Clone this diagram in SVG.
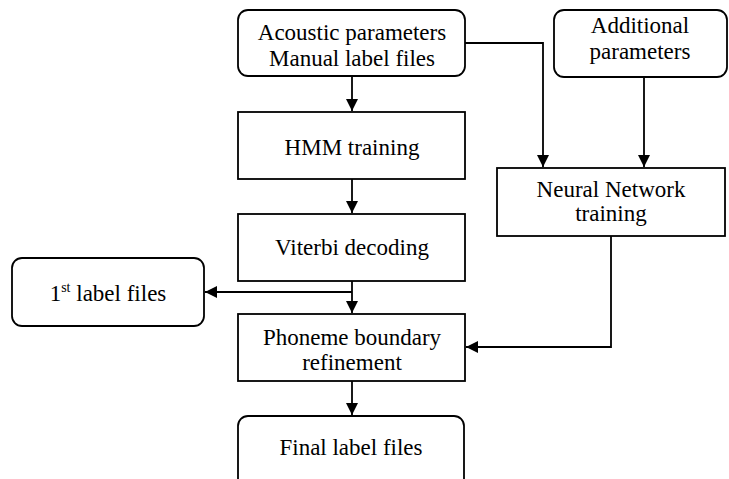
<svg xmlns="http://www.w3.org/2000/svg" width="729" height="479" viewBox="0 0 729 479">
<defs>
<marker id="ah" viewBox="0 0 12 12" refX="12" refY="6" markerWidth="12" markerHeight="12" markerUnits="userSpaceOnUse" orient="auto">
<path d="M0,0 L12,6 L0,12 Z" fill="#000"/>
</marker>
</defs>
<style>
.box{fill:#fff;stroke:#000;stroke-width:1.8}
.t{font-family:"Liberation Serif","Times New Roman",serif;font-size:23px;fill:#000;text-anchor:middle}
.c{fill:none;stroke:#000;stroke-width:1.8}
</style>
<rect width="729" height="479" fill="#fff"/>
<g id="connectors">
<path class="c" d="M352,76 V111" marker-end="url(#ah)"/>
<path class="c" d="M352,179 V213" marker-end="url(#ah)"/>
<path class="c" d="M352,281 V313" marker-end="url(#ah)"/>
<path class="c" d="M352,292 H205" marker-end="url(#ah)"/>
<path class="c" d="M352,381 V415" marker-end="url(#ah)"/>
<path class="c" d="M465,43 H543 V167" marker-end="url(#ah)"/>
<path class="c" d="M644,77 V167" marker-end="url(#ah)"/>
<path class="c" d="M611,236 V347 H466" marker-end="url(#ah)"/>
</g>
<g id="acoustic">
<rect class="box" x="238" y="10" width="227" height="66" rx="10"/>
<text class="t" x="352" y="40">Acoustic parameters</text>
<text class="t" x="352" y="66">Manual label files</text>
</g>
<g id="additional">
<rect class="box" x="554" y="10" width="173" height="67" rx="10"/>
<text class="t" x="640" y="33">Additional</text>
<text class="t" x="640" y="59">parameters</text>
</g>
<g id="hmm">
<rect class="box" x="238" y="112" width="227" height="67"/>
<text class="t" x="352" y="155">HMM training</text>
</g>
<g id="viterbi">
<rect class="box" x="238" y="214" width="227" height="67"/>
<text class="t" x="352" y="255">Viterbi decoding</text>
</g>
<g id="nn">
<rect class="box" x="497" y="168" width="228" height="68"/>
<text class="t" x="611" y="197">Neural Network</text>
<text class="t" x="611" y="221">training</text>
</g>
<g id="first">
<rect class="box" x="12" y="258" width="192" height="68" rx="10"/>
<text class="t" x="108" y="301">1<tspan font-size="14" dy="-9">st</tspan><tspan dy="9"> label files</tspan></text>
</g>
<g id="phoneme">
<rect class="box" x="238" y="314" width="227" height="67"/>
<text class="t" x="352" y="345">Phoneme boundary</text>
<text class="t" x="352" y="370">refinement</text>
</g>
<g id="final">
<rect class="box" x="238" y="416" width="226" height="80" rx="10"/>
<text class="t" x="351" y="455">Final label files</text>
</g>
</svg>
